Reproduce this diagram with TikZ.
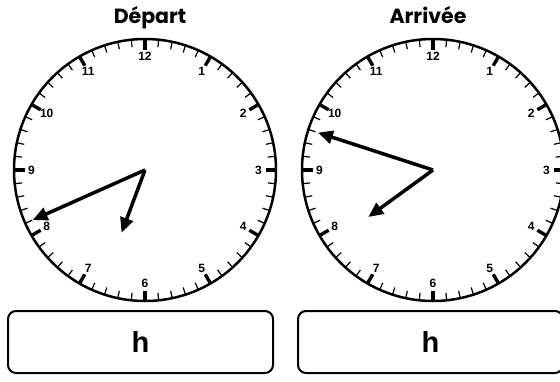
\documentclass[tikz,border=0pt]{standalone}
\usepackage{fontspec}
\setmainfont{Liberation Sans}
\newfontfamily\titlefont{Poppins}
\usetikzlibrary{arrows.meta, positioning}

\begin{document}
\begin{tikzpicture}[
		x=1pt, y=1pt,
		% Styles for the clock faces
		face/.style={draw, line width=2.5pt},
		minor tick/.style={line width=1.2pt},
		major tick/.style={line width=3.4pt},
		hour num/.style={font=\bfseries\fontsize{12}{12}\selectfont, inner sep=0pt},
		% Style for the hands
		hand/.style={line width=3.5pt, -{Triangle[length=15pt, width=13pt]}},
		% Title & answer boxes
		clockTitle/.style={font=\titlefont\bfseries\fontsize{20.5}{20.5}\selectfont, anchor=base},
		answerBox/.style={draw, line width=2pt, rounded corners=8pt, minimum width=265pt, minimum height=62pt,
			font=\bfseries\fontsize{29}{29}\selectfont}
		]
		\useasboundingbox (0,0) rectangle (560,-381);
		
		% ==============================================================================
		% LEFT: Départ
		% ==============================================================================
		\node[clockTitle] (titleDep) at (150,-23) {Départ};
		\begin{scope}[shift={(145,-170)}]
			\coordinate (Dep-c) at (0,0);
			\draw[face] (Dep-c) circle (131);
			\foreach \m in {0,...,59} \draw[minor tick] (6*\m:123.5) -- (6*\m:131);
			\foreach \h in {1,...,12} {
					\draw[major tick] (90-30*\h:120.5) -- (90-30*\h:131);
					\node[hour num] (Dep-\h) at (90-30*\h:113.5) {\h};
				}
			% hands: 6 h 41
			\coordinate (Dep-min) at (-156:123);
			\coordinate (Dep-hr) at (-110.5:67);
			\draw[hand] (Dep-c) -- (Dep-min);
			\draw[hand] (Dep-c) -- (Dep-hr);
		\end{scope}
		\node[answerBox] (boxDep) at (140.5,-342) {h};
		
		% ==============================================================================
		% RIGHT: Arrivée
		% ==============================================================================
		\node[clockTitle] (titleArr) at (428,-23) {Arrivée};
		\begin{scope}[shift={(433,-170)}]
			\coordinate (Arr-c) at (0,0);
			\draw[face] (Arr-c) circle (131);
			\foreach \m in {0,...,59} \draw[minor tick] (6*\m:123.5) -- (6*\m:131);
			\foreach \h in {1,...,12} {
					\draw[major tick] (90-30*\h:120.5) -- (90-30*\h:131);
					\node[hour num] (Arr-\h) at (90-30*\h:113.5) {\h};
				}
			% hands: 7 h 48
			\coordinate (Arr-min) at (162:121);
			\coordinate (Arr-hr) at (-144:80);
			\draw[hand] (Arr-c) -- (Arr-min);
			\draw[hand] (Arr-c) -- (Arr-hr);
		\end{scope}
		\node[answerBox] (boxArr) at (430.5,-342) {h};
	\end{tikzpicture}
\end{document}
